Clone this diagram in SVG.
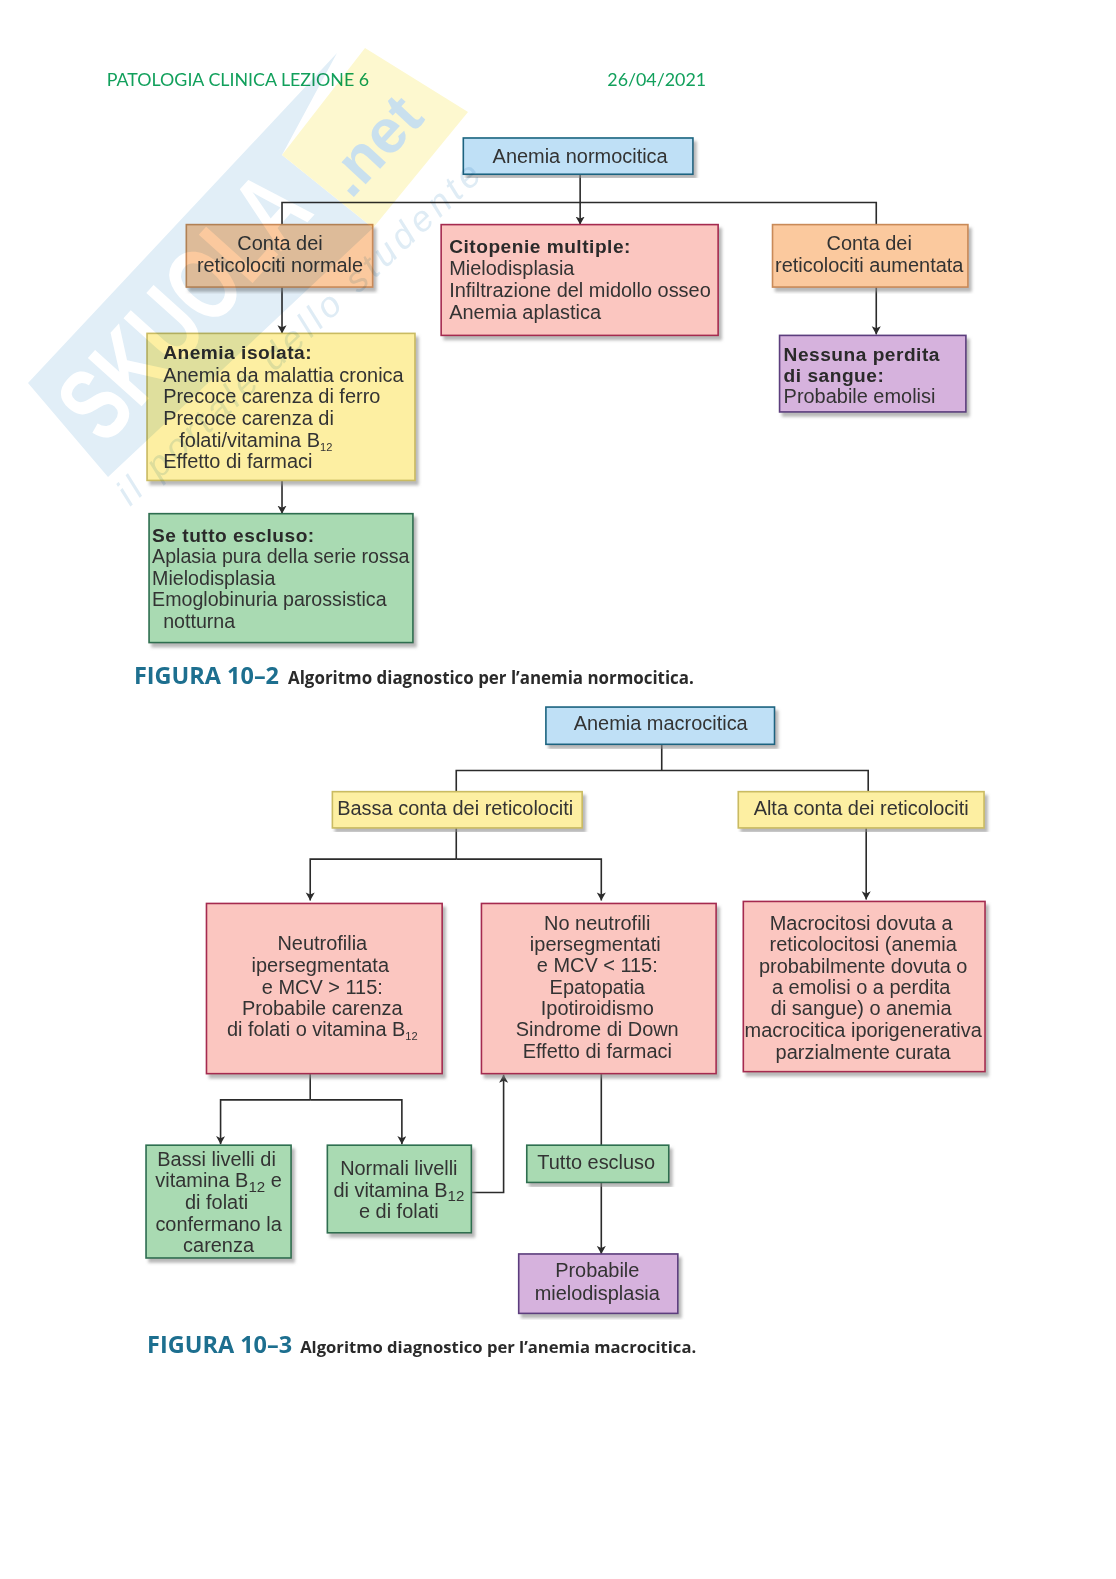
<svg xmlns="http://www.w3.org/2000/svg" width="1116" height="1579" viewBox="0 0 1116 1579">
<style>
text{font-family:"Liberation Sans",Arial,sans-serif;font-size:19.8px;fill:#333}
.c{text-anchor:middle}
.b{font-weight:bold;font-size:19px;letter-spacing:.5px;fill:#2a2a2a}
.s{font-size:11px}
.s2{font-size:15px}
.n7t{font-size:19.5px}
.box{stroke-width:1.6;filter:url(#sh)}
.blue{fill:#bfe0f6;stroke:#1d6480}
.or{fill:#fbc99e;stroke:#c98a58}
.red{fill:#fbc6c0;stroke:#a52c50}
.pur{fill:#d6b2dd;stroke:#5b3d7d}
.yel{fill:#fdefa2;stroke:#cabb62}
.gr{fill:#a9dab2;stroke:#2e6e50}
.head{font-family:Lato,"Open Sans",sans-serif;font-size:17.7px;fill:#12a05c}
.fig{font-family:"Open Sans",sans-serif;font-weight:bold;font-size:23.3px;fill:#1d6f8f}
.cap{font-family:"Open Sans",sans-serif;font-weight:bold;font-size:16.8px;fill:#2a2a2a}
.cap2{font-size:16.5px}
#connectors path{fill:none;stroke:#2b2b2b;stroke-width:1.6}
.wm{mix-blend-mode:multiply}
.wt{font-family:"Liberation Sans",sans-serif;font-weight:bold;font-size:105px;fill:#fff}
.wn{font-family:"Liberation Sans",sans-serif;font-weight:bold;font-size:62px;fill:#c9e0ee}
.tag{font-family:"Liberation Sans",sans-serif;font-style:italic;font-size:36px;fill:#dfecf5}
</style>
<defs>
<filter id="sh" x="-5%" y="-5%" width="112%" height="115%"><feDropShadow dx="3" dy="4" stdDeviation="1.5" flood-color="#888" flood-opacity=".6"/></filter>
<marker id="a" markerUnits="userSpaceOnUse" markerWidth="10" markerHeight="10" refX="8" refY="4.5" orient="auto"><path d="M0,0L8,4.5L0,9L2,4.5Z" fill="#2b2b2b"/></marker>
</defs>
<rect width="1116" height="1579" fill="#fff"/>
<g transform="scale(1.0072)">
<text class="head" x="106" y="85">PATOLOGIA CLINICA LEZIONE 6</text>
<text class="head" x="603" y="85">26/04/2021</text>
<g id="connectors">
<path d="M576,173V223" marker-end="url(#a)"/>
<path d="M280,223V201H870V223"/>
<path d="M280,285V331" marker-end="url(#a)"/>
<path d="M280,477V510" marker-end="url(#a)"/>
<path d="M870,285V332" marker-end="url(#a)"/>
<path d="M657,739V765"/>
<path d="M453,786V765H862V786"/>
<path d="M453,822V853"/>
<path d="M453,853H597V894" marker-end="url(#a)"/>
<path d="M453,853H308V894" marker-end="url(#a)"/>
<path d="M860,822V893" marker-end="url(#a)"/>
<path d="M308,1066V1092"/>
<path d="M308,1092H399V1136" marker-end="url(#a)"/>
<path d="M308,1092H219V1136" marker-end="url(#a)"/>
<path d="M468,1184H500V1067" marker-end="url(#a)"/>
<path d="M597,1066V1137"/>
<path d="M597,1174V1245" marker-end="url(#a)"/>
</g>
<g id="n1"><rect class="box blue" x="460" y="137" width="228" height="36"/><text class="c" x="576" y="162">Anemia normocitica</text></g>
<g id="n2"><rect class="box or" x="185" y="223" width="185" height="62"/><text class="c" x="278" y="248">Conta dei</text><text class="c" x="278" y="270">reticolociti normale</text></g>
<g id="n3"><rect class="box red" x="438" y="223" width="275" height="110"/><text class="b" x="446" y="251">Citopenie multiple:</text><text x="446" y="273">Mielodisplasia</text><text x="446" y="295">Infiltrazione del midollo osseo</text><text x="446" y="317">Anemia aplastica</text></g>
<g id="n4"><rect class="box or" x="767" y="223" width="194" height="62"/><text class="c" x="863" y="248">Conta dei</text><text class="c" x="863" y="270">reticolociti aumentata</text></g>
<g id="n5"><rect class="box pur" x="774" y="333" width="185" height="76"/><text class="b" x="778" y="358">Nessuna perdita</text><text class="b" x="778" y="379">di sangue:</text><text x="778" y="400">Probabile emolisi</text></g>
<g id="n6"><rect class="box yel" x="146" y="331" width="266" height="146"/><text class="b" x="162" y="356">Anemia isolata:</text><text x="162" y="379">Anemia da malattia cronica</text><text x="162" y="400">Precoce carenza di ferro</text><text x="162" y="422">Precoce carenza di</text><text x="178" y="444">folati/vitamina B<tspan class="s" dy="4">12</tspan></text><text x="162" y="465">Effetto di farmaci</text></g>
<g id="n7"><rect class="box gr" x="148" y="510" width="262" height="128"/><text class="b" x="151" y="538">Se tutto escluso:</text><text class="n7t" x="151" y="559">Aplasia pura della serie rossa</text><text class="n7t" x="151" y="581">Mielodisplasia</text><text class="n7t" x="151" y="602">Emoglobinuria parossistica</text><text class="n7t" x="162" y="624">notturna</text></g>
<text class="fig" x="133" y="679">FIGURA 10–2</text><text class="cap" x="286" y="679">Algoritmo diagnostico per l’anemia normocitica.</text>
<g id="n8"><rect class="box blue" x="542" y="702" width="227" height="37"/><text class="c" x="656" y="725">Anemia macrocitica</text></g>
<g id="n9"><rect class="box yel" x="330" y="786" width="248" height="36"/><text class="c" x="452" y="809">Bassa conta dei reticolociti</text></g>
<g id="n10"><rect class="box yel" x="733" y="786" width="244" height="36"/><text class="c" x="855" y="809">Alta conta dei reticolociti</text></g>
<g id="n11"><rect class="box red" x="205" y="897" width="234" height="169"/><text class="c" x="320" y="943">Neutrofilia</text><text class="c" x="318" y="965">ipersegmentata</text><text class="c" x="320" y="987">e MCV &gt; 115:</text><text class="c" x="320" y="1008">Probabile carenza</text><text class="c" x="320" y="1029">di folati o vitamina B<tspan class="s" dy="4">12</tspan></text></g>
<g id="n12"><rect class="box red" x="478" y="897" width="233" height="169"/><text class="c" x="593" y="923">No neutrofili</text><text class="c" x="591" y="944">ipersegmentati</text><text class="c" x="593" y="965">e MCV &lt; 115:</text><text class="c" x="593" y="987">Epatopatia</text><text class="c" x="593" y="1008">Ipotiroidismo</text><text class="c" x="593" y="1029">Sindrome di Down</text><text class="c" x="593" y="1050">Effetto di farmaci</text></g>
<g id="n13"><rect class="box red" x="738" y="895" width="240" height="169"/><text class="c" x="855" y="923">Macrocitosi dovuta a</text><text class="c" x="857" y="944">reticolocitosi (anemia</text><text class="c" x="857" y="966">probabilmente dovuta o</text><text class="c" x="855" y="987">a emolisi o a perdita</text><text class="c" x="855" y="1008">di sangue) o anemia</text><text class="c" x="857" y="1030">macrocitica iporigenerativa</text><text class="c" x="857" y="1051">parzialmente curata</text></g>
<g id="n14"><rect class="box gr" x="145" y="1137" width="144" height="112"/><text class="c" x="215" y="1158">Bassi livelli di</text><text class="c" x="217" y="1179">vitamina B<tspan class="s2" dy="4">12</tspan><tspan dy="-4"> e</tspan></text><text class="c" x="215" y="1200">di folati</text><text class="c" x="217" y="1222">confermano la</text><text class="c" x="217" y="1243">carenza</text></g>
<g id="n15"><rect class="box gr" x="325" y="1137" width="143" height="87"/><text class="c" x="396" y="1167">Normali livelli</text><text class="c" x="396" y="1188">di vitamina B<tspan class="s2" dy="4">12</tspan></text><text class="c" x="396" y="1209">e di folati</text></g>
<g id="n16"><rect class="box gr" x="523" y="1137" width="141" height="37"/><text class="c" x="592" y="1161">Tutto escluso</text></g>
<g id="n17"><rect class="box pur" x="515" y="1245" width="158" height="59"/><text class="c" x="593" y="1268">Probabile</text><text class="c" x="593" y="1291">mielodisplasia</text></g>
<text class="fig" x="146" y="1343">FIGURA 10–3</text><text class="cap cap2" x="298" y="1343">Algoritmo diagnostico per l’anemia macrocitica.</text>
</g>
<g id="watermark" class="wm">
<polygon points="28,383 337,53 282,155 373,228 108,477" fill="#e1eef7"/>
<polygon points="282,155 365,48 468,112 373,228" fill="#fdf8cf"/>
<text class="wt" transform="translate(105,447) rotate(-48)" textLength="315" lengthAdjust="spacingAndGlyphs">SKUOLA</text>
<text class="wn" transform="translate(351,200) rotate(-47)">.net</text>
<text class="tag" transform="translate(130,507) rotate(-43)" textLength="483">il portale dello studente</text>
</g>
</svg>
